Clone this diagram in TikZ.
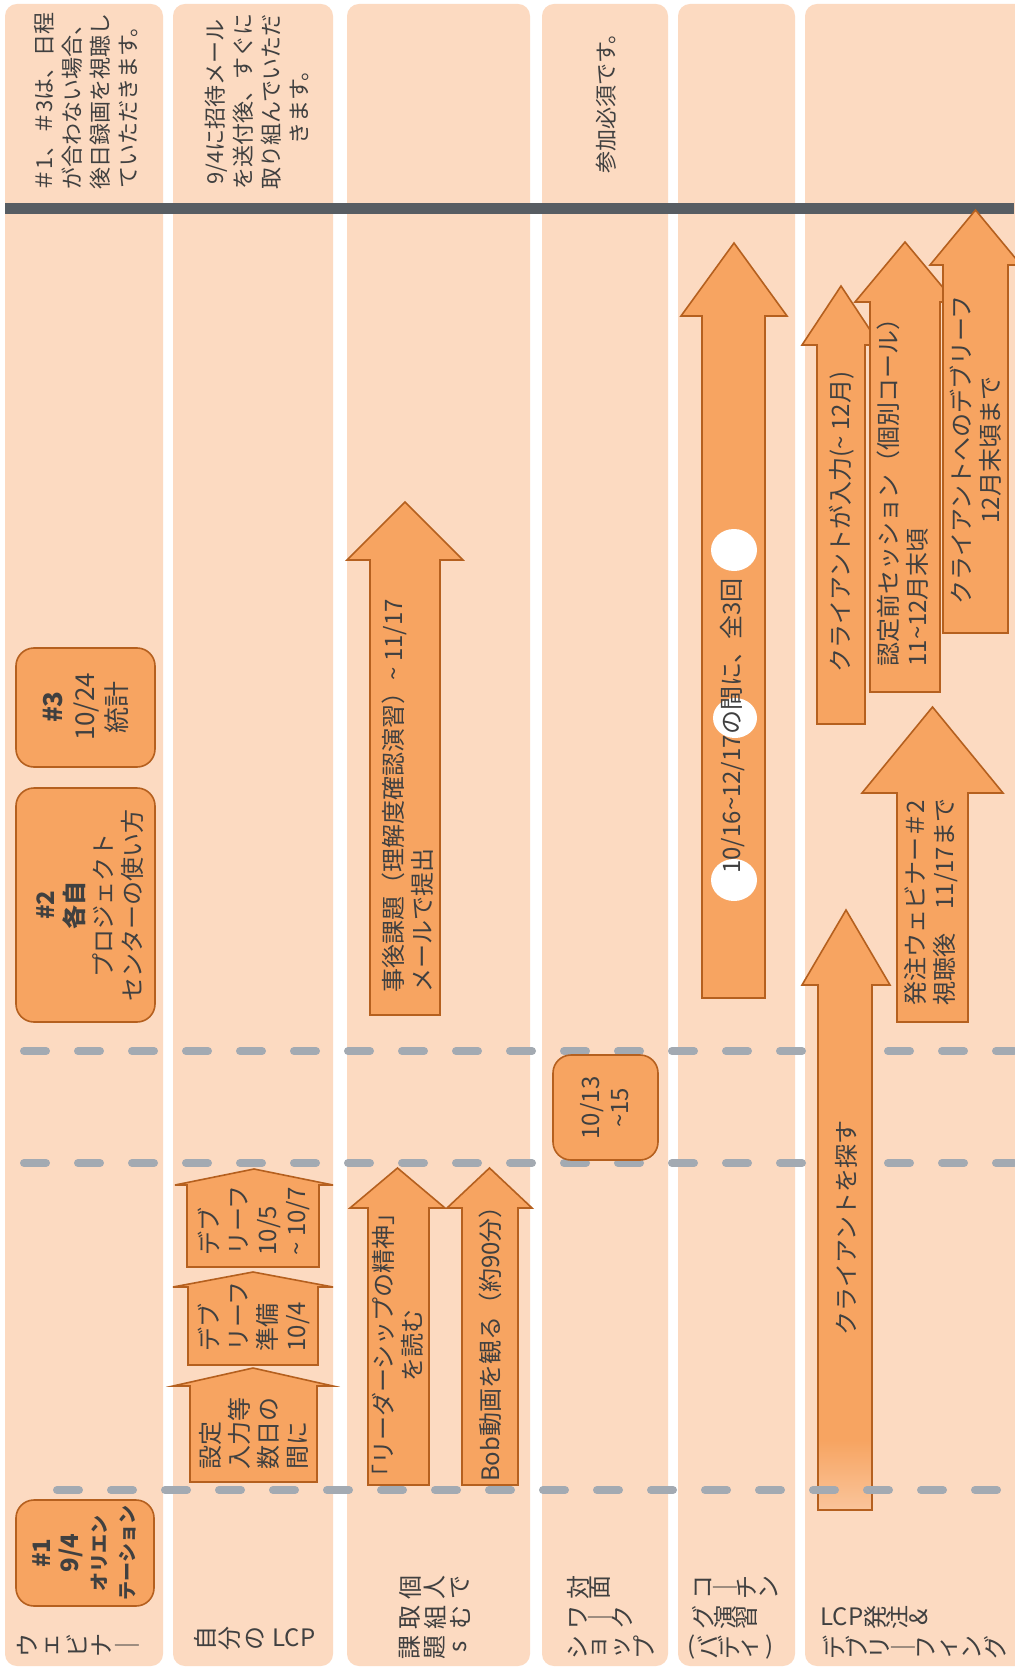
\documentclass[tikz,border=0pt]{standalone}
\usepackage{fontspec}
\setmainfont{Noto Sans CJK JP}
\definecolor{laneC}{HTML}{FCDAC1}
\definecolor{boxC}{HTML}{F7A461}
\definecolor{edgeC}{HTML}{B5601F}
\definecolor{textC}{HTML}{404040}
\definecolor{barC}{HTML}{575D63}
\definecolor{dashC}{HTML}{A3AAB2}
\newcommand{\swung}{\textasciitilde}
\newcommand{\blockup}[8][blk]{%
  \path[#1] (#2,#8) -- (#2,#6) -- (#4,#6) -- ({(#4+#5)/2},#7) -- (#5,#6) -- (#3,#6) -- (#3,#8) -- cycle;}
\newcommand{\lanerow}[5]{%
  \foreach \c [count=\i from 0] in {#5}
    \node[lanechar] (#1\i) at ({#2+\i*#4},#3) {\c};}
\begin{document}
\begin{tikzpicture}[x=0.5pt,y=-0.5pt,
    lane/.style={fill=laneC,rounded corners=6pt},
    evbox/.style={draw=edgeC,fill=boxC,line width=0.8pt,rounded corners=9pt},
    blk/.style={draw=edgeC,fill=boxC,line width=0.8pt},
    txt/.style={rotate=90,text=textC,inner sep=0pt,font=\fontsize{12}{14.5}\selectfont},
    note/.style={txt,align=center,font=\fontsize{11}{14}\selectfont},
    lanechar/.style={rotate=90,text=textC,inner sep=0pt,font=\fontsize{12}{12}\selectfont},
    lanelatin/.style={text=textC,inner sep=0pt,font=\fontsize{12}{12}\selectfont},
    dashline/.style={draw=dashC,line width=4pt,line cap=round,dash pattern=on 11pt off 16pt}]
  \fill[white] (0,0) rectangle (1014,1668);
  \useasboundingbox (0,0) rectangle (1014,1668);
  \fill[lane] (5,4) rectangle (163,1666);
  \fill[lane] (173,4) rectangle (333,1666);
  \fill[lane] (347,4) rectangle (530,1666);
  \fill[lane] (542,4) rectangle (668,1666);
  \fill[lane] (678,4) rectangle (795,1666);
  \fill[lane] (805,4) rectangle (1030,1666);
  \draw[barC,line width=5.5pt] (5,209) -- (1014,209);
  \draw[dashline] (24,1051) -- (1014,1051);
  \draw[dashline] (24,1163) -- (1014,1163);

  \node[note] (webnote) at (86,102) {＃1、＃3は、日程\\が合わない場合、\\後日録画を視聴し\\ていただきます。};
  \node[note] (lcpnote) at (257,102) {9/4に招待メール\\を送付後、すぐに\\取り組んでいただ\\きます。};
  \node[note] (wsnote) at (606,98) {参加必須です。};

  \draw[evbox] (16,1500) rectangle (154,1606);
  \node[txt,align=center,font=\fontsize{12}{14}\selectfont] (web1) at (84,1553)
    {{\bfseries\#1}\\{\bfseries 9/4}\\{\fontsize{9.5}{14}\selectfont\bfseries オリエン}\\{\fontsize{9.5}{14}\selectfont\bfseries テーション}};
  \draw[evbox] (16,788) rectangle (155,1022);
  \node[txt,align=center] (web2) at (90,905) {{\bfseries\#2}\\{\bfseries 各自}\\プロジェクト\\センターの使い方};
  \draw[evbox] (16,648) rectangle (155,767);
  \node[txt,align=center,font=\fontsize{13}{16}\selectfont] (web3) at (86,707) {{\bfseries\#3}\\10/24\\統計};

  \blockup{190}{317}{173}{333}{1386}{1368}{1482}
  \node[txt,align=left,anchor=west] (setup) at (254,1470) {設定\\入力等\\数日の\\間に};
  \blockup{188}{318}{173}{333}{1287}{1272}{1365}
  \node[txt,align=left,anchor=west] (prep) at (254,1352) {デブ\\リーフ\\準備\\10/4};
  \blockup{187}{319}{175}{333}{1185}{1169}{1267}
  \node[txt,align=left,anchor=west] (debrief) at (254,1256) {デブ\\リーフ\\10/5\\\swung\ 10/7};

  \blockup{368}{429}{350}{445}{1208}{1168}{1485}
  \node[txt,align=center] (readbook) at (398,1345) {「リーダーシップの精神」\\を読む};
  \blockup{462}{518}{447}{532}{1208}{1168}{1485}
  \node[txt] (watchbob) at (490,1338) {Bob動画を観る（約90分）};
  \blockup{370}{440}{347}{463}{560}{502}{1015}
  \node[txt,align=left,anchor=west] (homework) at (408,993) {事後課題（理解度確認演習）\swung\ 11/17\\メールで提出};

  \draw[evbox] (553,1055) rectangle (658,1160);
  \node[txt,align=center] (wsdate) at (605,1108) {10/13\\\swung 15};

  \blockup{702}{765}{681}{787}{316}{243}{998}
  \fill[white] (734,550) ellipse[x radius=23,y radius=21];
  \fill[white] (735,718) ellipse[x radius=22,y radius=20];
  \fill[white] (734,880) ellipse[x radius=23,y radius=21];
  \node[txt] (coaching) at (733,726) {10/16\swung 12/17の間に、全3回};

  \blockup[fill=boxC]{818}{872}{802}{890}{985}{910}{1510}
  \shade[top color=boxC,bottom color=boxC!40!laneC] (818.4,1440) rectangle (871.6,1509.6);
  \blockup[draw=edgeC,line width=0.8pt]{818}{872}{802}{890}{985}{910}{1510}
  \node[txt] (findclient) at (846,1228) {クライアントを探す};
  \blockup{897}{968}{862}{1003}{793}{707}{1022}
  \node[txt,align=left,anchor=west] (orderweb) at (931,1006) {発注ウェビナー＃2\\視聴後　11/17まで};
  \blockup{817}{865}{802}{880}{345}{286}{724}
  \node[txt] (clientinput) at (842,522) {クライアントが入力(\swung\ 12月)};
  \blockup{870}{940}{855}{955}{302}{242}{692}
  \node[txt,align=left,anchor=west] (session) at (903,667) {認定前セッション（個別コール）\\11\swung 12月末頃};
  \blockup{943}{1008}{930}{1021}{265}{210}{633}
  \node[txt,align=center] (clientdebrief) at (976,450) {クライアントへのデブリーフ\\12月末頃まで};

  \draw[dashline] (57,1490) -- (1014,1490);

  \lanerow{webl}{27}{1645}{25}{ウ,ェ,ビ,ナ,｜}
  \lanerow{lcpl}{205}{1638}{25}{自,分,の}
  \node[lanelatin] (lcplatin) at (294,1638) {LCP};
  \lanerow{kadaiA}{410}{1587}{25}{個,人,で}
  \lanerow{kadaiB}{410}{1617}{25}{取,組,む}
  \lanerow{kadaiC}{410}{1647}{25}{課,題,s}
  \lanerow{wsA}{578}{1587}{22}{対,面}
  \lanerow{wsB}{578}{1617}{22}{ワ,｜,ク}
  \lanerow{wsC}{578}{1647}{22}{シ,ョ,ッ,プ}
  \lanerow{coA}{703}{1587}{22}{コ,｜,チ,ン}
  \lanerow{coB}{703}{1617}{22}{グ,演,習}
  \node[lanelatin] (coparl) at (692,1647) {(};
  \lanerow{coC}{708}{1647}{21}{バ,デ,ィ}
  \node[lanelatin] (coparr) at (770,1647) {)};
  \node[lanelatin] (orderlatin) at (842,1617) {LCP};
  \lanerow{orderA}{875}{1617}{22}{発,注,\&}
  \lanerow{orderB}{834}{1647}{23}{デ,ブ,リ,｜,フ,ィ,ン,グ}
\end{tikzpicture}
\end{document}
